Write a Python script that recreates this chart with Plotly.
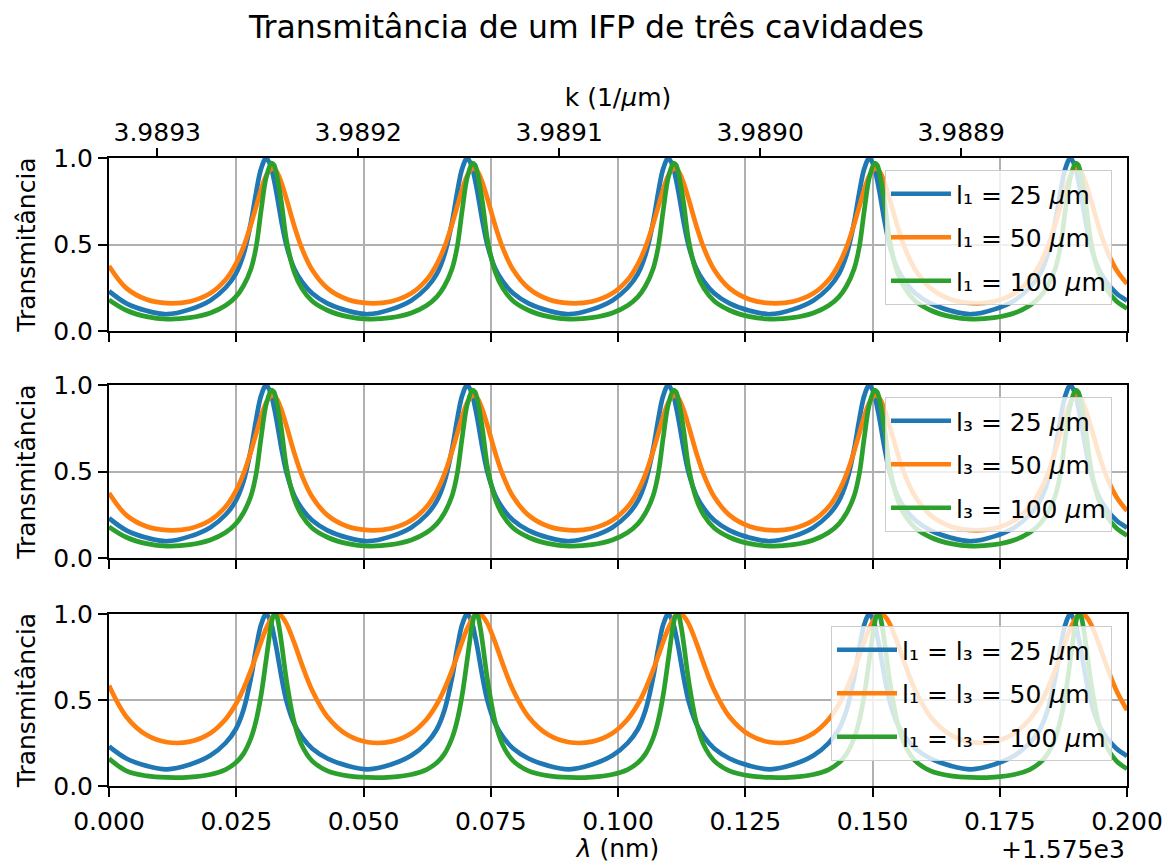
import math
import plotly.graph_objects as go

# Wavelength offsets from 1575 nm (nm), sample grid shared by all curves
lam = [
    0.0000, 0.0034, 0.0074,
    0.0114, 0.0159, 0.0199, 0.0229, 0.0249, 0.0264, 0.0279, 0.0289, 0.0299, 0.0309, 0.0319,
    0.0324, 0.0329, 0.0334, 0.0339, 0.0349, 0.0364, 0.0379, 0.0399, 0.0429, 0.0469,
    0.0509, 0.0554, 0.0594, 0.0624, 0.0644, 0.0659, 0.0674, 0.0684, 0.0694, 0.0704, 0.0714,
    0.0719, 0.0724, 0.0729, 0.0734, 0.0744, 0.0759, 0.0774, 0.0794, 0.0824, 0.0864,
    0.0904, 0.0949, 0.0989, 0.1019, 0.1039, 0.1054, 0.1069, 0.1079, 0.1089, 0.1099, 0.1109,
    0.1114, 0.1119, 0.1124, 0.1129, 0.1139, 0.1154, 0.1169, 0.1189, 0.1219, 0.1259,
    0.1299, 0.1344, 0.1384, 0.1414, 0.1434, 0.1449, 0.1464, 0.1474, 0.1484, 0.1494, 0.1504,
    0.1509, 0.1514, 0.1519, 0.1524, 0.1534, 0.1549, 0.1564, 0.1584, 0.1614, 0.1654,
    0.1694, 0.1739, 0.1779, 0.1809, 0.1829, 0.1844, 0.1859, 0.1869, 0.1879, 0.1889, 0.1899,
    0.1904, 0.1909, 0.1914, 0.1919, 0.1929, 0.1944, 0.1959, 0.1979,
    0.2000,
]

# 25 um cavities (same configuration in every panel)
t_25 = [
    0.23, 0.16, 0.117,
    0.097, 0.125, 0.177, 0.25, 0.33, 0.44, 0.63, 0.80, 0.94, 1.00, 0.94,
    0.875, 0.80, 0.715, 0.63, 0.49, 0.36, 0.285, 0.218, 0.16, 0.117,
    0.097, 0.125, 0.177, 0.25, 0.33, 0.44, 0.63, 0.80, 0.94, 1.00, 0.94,
    0.875, 0.80, 0.715, 0.63, 0.49, 0.36, 0.285, 0.218, 0.16, 0.117,
    0.097, 0.125, 0.177, 0.25, 0.33, 0.44, 0.63, 0.80, 0.94, 1.00, 0.94,
    0.875, 0.80, 0.715, 0.63, 0.49, 0.36, 0.285, 0.218, 0.16, 0.117,
    0.097, 0.125, 0.177, 0.25, 0.33, 0.44, 0.63, 0.80, 0.94, 1.00, 0.94,
    0.875, 0.80, 0.715, 0.63, 0.49, 0.36, 0.285, 0.218, 0.16, 0.117,
    0.097, 0.125, 0.177, 0.25, 0.33, 0.44, 0.63, 0.80, 0.94, 1.00, 0.94,
    0.875, 0.80, 0.715, 0.63, 0.49, 0.36, 0.285, 0.218,
    0.175,
]

# one cavity at 50 um
t_single_50 = [
    0.376, 0.248, 0.182,
    0.161, 0.171, 0.218, 0.296, 0.387, 0.485, 0.617, 0.718, 0.819, 0.900, 0.939,
    0.937, 0.922, 0.894, 0.855, 0.760, 0.607, 0.477, 0.354, 0.248, 0.182,
    0.161, 0.171, 0.218, 0.296, 0.387, 0.485, 0.617, 0.718, 0.819, 0.900, 0.939,
    0.937, 0.922, 0.894, 0.855, 0.760, 0.607, 0.477, 0.354, 0.248, 0.182,
    0.161, 0.171, 0.218, 0.296, 0.387, 0.485, 0.617, 0.718, 0.819, 0.900, 0.939,
    0.937, 0.922, 0.894, 0.855, 0.760, 0.607, 0.477, 0.354, 0.248, 0.182,
    0.161, 0.171, 0.218, 0.296, 0.387, 0.485, 0.617, 0.718, 0.819, 0.900, 0.939,
    0.937, 0.922, 0.894, 0.855, 0.760, 0.607, 0.477, 0.354, 0.248, 0.182,
    0.161, 0.171, 0.218, 0.296, 0.387, 0.485, 0.617, 0.718, 0.819, 0.900, 0.939,
    0.937, 0.922, 0.894, 0.855, 0.760, 0.607, 0.477, 0.354,
    0.273,
]

# one cavity at 100 um
t_single_100 = [
    0.18, 0.12, 0.083,
    0.069, 0.077, 0.104, 0.147, 0.197, 0.26, 0.36, 0.485, 0.70, 0.89, 0.97,
    0.96, 0.91, 0.83, 0.74, 0.52, 0.34, 0.245, 0.173, 0.12, 0.083,
    0.069, 0.077, 0.104, 0.147, 0.197, 0.26, 0.36, 0.485, 0.70, 0.89, 0.97,
    0.96, 0.91, 0.83, 0.74, 0.52, 0.34, 0.245, 0.173, 0.12, 0.083,
    0.069, 0.077, 0.104, 0.147, 0.197, 0.26, 0.36, 0.485, 0.70, 0.89, 0.97,
    0.96, 0.91, 0.83, 0.74, 0.52, 0.34, 0.245, 0.173, 0.12, 0.083,
    0.069, 0.077, 0.104, 0.147, 0.197, 0.26, 0.36, 0.485, 0.70, 0.89, 0.97,
    0.96, 0.91, 0.83, 0.74, 0.52, 0.34, 0.245, 0.173, 0.12, 0.083,
    0.069, 0.077, 0.104, 0.147, 0.197, 0.26, 0.36, 0.485, 0.70, 0.89, 0.97,
    0.96, 0.91, 0.83, 0.74, 0.52, 0.34, 0.245, 0.173,
    0.13,
]

# both outer cavities at 50 um
t_both_50 = [
    0.584, 0.403, 0.296,
    0.2545, 0.258, 0.307, 0.388, 0.475, 0.564, 0.674, 0.756, 0.840, 0.917, 0.974,
    0.991, 0.999, 0.998, 0.988, 0.942, 0.832, 0.706, 0.557, 0.403, 0.296,
    0.2545, 0.258, 0.307, 0.388, 0.475, 0.564, 0.674, 0.756, 0.840, 0.917, 0.974,
    0.991, 0.999, 0.998, 0.988, 0.942, 0.832, 0.706, 0.557, 0.403, 0.296,
    0.2545, 0.258, 0.307, 0.388, 0.475, 0.564, 0.674, 0.756, 0.840, 0.917, 0.974,
    0.991, 0.999, 0.998, 0.988, 0.942, 0.832, 0.706, 0.557, 0.403, 0.296,
    0.2545, 0.258, 0.307, 0.388, 0.475, 0.564, 0.674, 0.756, 0.840, 0.917, 0.974,
    0.991, 0.999, 0.998, 0.988, 0.942, 0.832, 0.706, 0.557, 0.403, 0.296,
    0.2545, 0.258, 0.307, 0.388, 0.475, 0.564, 0.674, 0.756, 0.840, 0.917, 0.974,
    0.991, 0.999, 0.998, 0.988, 0.942, 0.832, 0.706, 0.557,
    0.441,
]

# both outer cavities at 100 um
t_both_100 = [
    0.159, 0.0881, 0.0589,
    0.0497, 0.0519, 0.0671, 0.0959, 0.135, 0.187, 0.279, 0.380, 0.532, 0.739, 0.943,
    0.995, 0.989, 0.927, 0.829, 0.609, 0.368, 0.235, 0.146, 0.0881, 0.0589,
    0.0497, 0.0519, 0.0671, 0.0959, 0.135, 0.187, 0.279, 0.380, 0.532, 0.739, 0.943,
    0.995, 0.989, 0.927, 0.829, 0.609, 0.368, 0.235, 0.146, 0.0881, 0.0589,
    0.0497, 0.0519, 0.0671, 0.0959, 0.135, 0.187, 0.279, 0.380, 0.532, 0.739, 0.943,
    0.995, 0.989, 0.927, 0.829, 0.609, 0.368, 0.235, 0.146, 0.0881, 0.0589,
    0.0497, 0.0519, 0.0671, 0.0959, 0.135, 0.187, 0.279, 0.380, 0.532, 0.739, 0.943,
    0.995, 0.989, 0.927, 0.829, 0.609, 0.368, 0.235, 0.146, 0.0881, 0.0589,
    0.0497, 0.0519, 0.0671, 0.0959, 0.135, 0.187, 0.279, 0.380, 0.532, 0.739, 0.943,
    0.995, 0.989, 0.927, 0.829, 0.609, 0.368, 0.235, 0.146,
    0.100,
]

# top axis: wavenumber k = 2*pi/lambda (1/um)
k_ticks = [3.9893, 3.9892, 3.9891, 3.9890, 3.9889]
k_tick_labels = ["3.9893", "3.9892", "3.9891", "3.9890", "3.9889"]
LAM0_NM = 1575.0
k_tick_pos = [2 * math.pi / k * 1000.0 - LAM0_NM for k in k_ticks]

x_ticks = [0.000, 0.025, 0.050, 0.075, 0.100, 0.125, 0.150, 0.175, 0.200]
y_ticks = [0.0, 0.5, 1.0]

COLORS = ["#1f77b4", "#ff7f0e", "#2ca02c"]
FONT = "DejaVu Sans"
FS = 25

panels = [
    ("y", "legend", [t_25, t_single_50, t_single_100],
     ["l₁ = 25 <i>μ</i>m", "l₁ = 50 <i>μ</i>m", "l₁ = 100 <i>μ</i>m"]),
    ("y2", "legend2", [t_25, t_single_50, t_single_100],
     ["l₃ = 25 <i>μ</i>m", "l₃ = 50 <i>μ</i>m", "l₃ = 100 <i>μ</i>m"]),
    ("y3", "legend3", [t_25, t_both_50, t_both_100],
     ["l₁ = l₃ = 25 <i>μ</i>m", "l₁ = l₃ = 50 <i>μ</i>m", "l₁ = l₃ = 100 <i>μ</i>m"]),
]

fig = go.Figure()
for p, (yref, leg, series, names) in enumerate(panels):
    xref = "x" if yref == "y" else "x" + yref[1:]
    for vals, name, color in zip(series, names, COLORS):
        fig.add_trace(go.Scatter(
            x=lam, y=vals, name=name, mode="lines",
            line=dict(color=color, width=4.7, shape="spline", smoothing=1.0),
            xaxis=xref, yaxis=yref, legend=leg, legendgroup="%d-%s" % (p, name),
        ))

# carrier for the wavenumber axis on top of the first panel
fig.add_trace(go.Scatter(x=[None], y=[None], xaxis="x4", yaxis="y",
                         showlegend=False, hoverinfo="skip"))

axis_common = dict(
    showline=True, linecolor="black", linewidth=2, mirror=True,
    ticks="outside", ticklen=9, tickwidth=2, tickcolor="black",
    showgrid=True, gridcolor="#b0b0b0", gridwidth=1.6, zeroline=False,
    tickfont=dict(family=FONT, size=FS, color="black"), automargin=False,
)

L, R, T, B = 109, 46, 158, 77
H = 863 - T - B


def dom(top_px, bot_px):
    return [1 - (bot_px - T) / H, 1 - (top_px - T) / H]


layout = dict(
    width=1173, height=863,
    margin=dict(l=L, r=R, t=T, b=B, autoexpand=False),
    plot_bgcolor="white", paper_bgcolor="white",
    font=dict(family=FONT, size=FS, color="black"),
    title=dict(text="Transmitância de um IFP de três cavidades", x=0.5, xanchor="center",
               y=1 - 27 / 863, yanchor="middle", font=dict(family=FONT, size=31.5)),
    showlegend=True,
)

ydoms = [dom(158, 331), dom(385, 558), dom(614, 786)]
for i, yd in enumerate(ydoms):
    suffix = "" if i == 0 else str(i + 1)
    layout["yaxis" + suffix] = dict(
        axis_common, domain=yd, range=[0, 1], tickvals=y_ticks,
        ticktext=["0.0", "0.5", "1.0"], anchor="x" + suffix,
        title=dict(text="Transmitância", standoff=10, font=dict(family=FONT, size=FS)),
    )
    xa = dict(axis_common, domain=[0, 1], range=[0, 0.2], tickvals=x_ticks,
              anchor="y" + suffix, showticklabels=(i == 2))
    if i == 2:
        xa["ticktext"] = ["%.3f" % v for v in x_ticks]
        xa["ticklabelstandoff"] = 3
        xa["title"] = dict(text="<i>λ</i> (nm)", standoff=8, font=dict(family=FONT, size=FS))
    else:
        xa["matches"] = "x3"
    layout["xaxis" + suffix] = xa

layout["xaxis4"] = dict(
    overlaying="x", side="top", anchor="y", range=[0, 0.2],
    tickvals=k_tick_pos, ticktext=k_tick_labels, ticklabelstandoff=-3,
    ticks="outside", ticklen=9, tickwidth=2, tickcolor="black",
    showgrid=False, zeroline=False, showline=False, automargin=False,
    tickfont=dict(family=FONT, size=FS, color="black"),
    title=dict(text="k (1/<i>μ</i>m)", standoff=4, font=dict(family=FONT, size=FS)),
)

leg_common = dict(
    bgcolor="rgba(255,255,255,0.8)", bordercolor="#cccccc", borderwidth=1,
    font=dict(family=FONT, size=FS, color="black"),
    xanchor="right", yanchor="top", itemwidth=60, tracegroupgap=8,
)
layout["legend"] = dict(leg_common, x=(1112 - L) / 1018, y=1 - (170 - T) / H)
layout["legend2"] = dict(leg_common, x=(1112 - L) / 1018, y=1 - (397 - T) / H)
layout["legend3"] = dict(leg_common, x=(1112 - L) / 1018, y=1 - (626 - T) / H)

layout["annotations"] = [
    dict(text="+1.575e3", xref="paper", yref="paper", x=1.0, y=-(849 - 786) / H,
         xanchor="right", yanchor="middle", showarrow=False,
         font=dict(family=FONT, size=FS, color="black")),
]

fig.update_layout(**layout)
fig.write_html("out.html")
